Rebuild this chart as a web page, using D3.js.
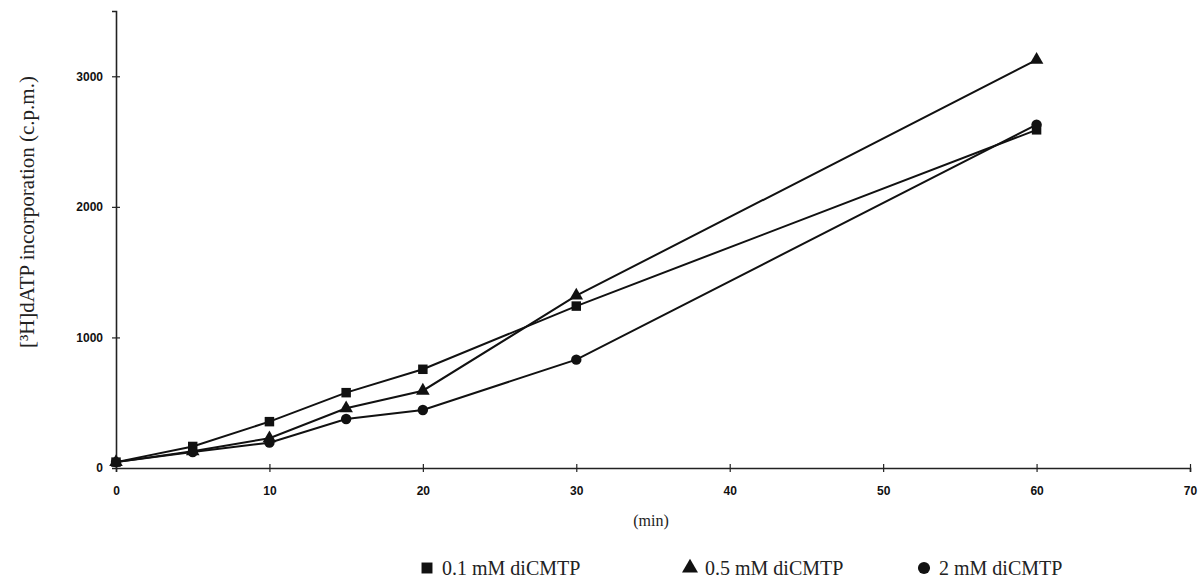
<!DOCTYPE html>
<html>
<head>
<meta charset="utf-8">
<script src="https://cdn.jsdelivr.net/npm/d3@7/dist/d3.min.js"></script>
<style>
  html, body { margin: 0; padding: 0; background: #fff; }
  svg { display: block; }
</style>
</head>
<body>
<svg id="chart" width="1204" height="583"></svg>
<script>
// ---- data ----
const times = [0, 5, 10, 15, 20, 30, 60];
const seriesNames = ["0.1 mM diCMTP", "0.5 mM diCMTP", "2 mM diCMTP"];
const seriesSymbols = ["square", "triangle", "circle"];
const valuesSquare = [45, 165, 355, 577, 756, 1240, 2590];
const valuesTriangle = [45, 128, 228, 457, 592, 1320, 3126];
const valuesCircle = [45, 122, 194, 375, 444, 830, 2630];
const xTicks = [0, 10, 20, 30, 40, 50, 60, 70];
const yTicks = [0, 1000, 2000, 3000];
const xTitle = "(min)";
const yTitle = "[³H]dATP incorporation (c.p.m.)";

const series = [
  { name: seriesNames[0], symbol: seriesSymbols[0], values: valuesSquare },
  { name: seriesNames[1], symbol: seriesSymbols[1], values: valuesTriangle },
  { name: seriesNames[2], symbol: seriesSymbols[2], values: valuesCircle }
];

// ---- layout ----
const svg = d3.select("#chart");
const x = d3.scaleLinear().domain([0, 70]).range([116, 1190]);
const y = d3.scaleLinear().domain([0, 3500]).range([468, 11]);

const symbolType = { square: d3.symbolSquare, triangle: d3.symbolTriangle, circle: d3.symbolCircle };
const symbolSize = { square: 90, triangle: 80, circle: 85 };

// axes
const fmt = d3.format("d");
const xAxis = d3.axisBottom(x).tickValues(xTicks).tickFormat(fmt).tickSizeOuter(0).tickSize(4).tickPadding(14);
const yAxis = d3.axisLeft(y).tickValues(yTicks).tickFormat(fmt).tickSizeOuter(0).tickSize(4).tickPadding(9);

const gx = svg.append("g").attr("transform", `translate(0,${y(0)})`).call(xAxis);
const gy = svg.append("g").attr("transform", `translate(${x(0)},0)`).call(yAxis);

[gx, gy].forEach(g => {
  g.select(".domain").attr("stroke", "#222").attr("stroke-width", 1.6);
  g.selectAll(".tick line").attr("stroke", "#222").attr("stroke-width", 1.2);
  g.selectAll(".tick text")
    .attr("fill", "#111")
    .style("font-family", "'Liberation Sans', Arial, sans-serif")
    .style("font-weight", "bold")
    .style("font-size", "12px");
});
gx.selectAll(".tick line").attr("y1", -4).attr("y2", 4);
gy.selectAll(".tick line").attr("x1", -4).attr("x2", 4);
gy.selectAll(".tick").filter(d => d === 0).select("line").remove();

// axis titles
svg.append("text")
  .attr("x", x(35) - 2).attr("y", 526)
  .attr("text-anchor", "middle")
  .style("font-family", "'Liberation Serif', 'Times New Roman', serif")
  .style("font-size", "16px")
  .attr("fill", "#222")
  .text(xTitle);

svg.append("text")
  .attr("transform", `translate(34,${y(1960)}) rotate(-90)`)
  .attr("text-anchor", "middle")
  .style("font-family", "'Liberation Serif', 'Times New Roman', serif")
  .style("font-size", "21px")
  .attr("fill", "#222")
  .text(yTitle);

// lines
const line = d3.line().x((d, i) => x(times[i])).y(d => y(d));
series.forEach(s => {
  svg.append("path")
    .datum(s.values)
    .attr("d", line)
    .attr("fill", "none")
    .attr("stroke", "#111")
    .attr("stroke-width", 2);
});

// markers
series.forEach(s => {
  svg.append("g").selectAll("path")
    .data(s.values)
    .join("path")
    .attr("transform", (d, i) => `translate(${x(times[i])},${y(d)})`)
    .attr("d", d3.symbol().type(symbolType[s.symbol]).size(symbolSize[s.symbol]))
    .attr("fill", "#111");
});

// legend
const legendX = [427, 690, 924];
const legendY = 575;
const lg = svg.append("g");
series.forEach((s, i) => {
  lg.append("path")
    .attr("transform", `translate(${legendX[i]},${legendY - 7})`)
    .attr("d", d3.symbol().type(symbolType[s.symbol]).size(symbolSize[s.symbol] + 30))
    .attr("fill", "#111");
  lg.append("text")
    .attr("x", legendX[i] + 15).attr("y", legendY)
    .style("font-family", "'Liberation Serif', 'Times New Roman', serif")
    .style("font-size", "20px")
    .attr("fill", "#222")
    .text(s.name);
});
</script>
</body>
</html>
